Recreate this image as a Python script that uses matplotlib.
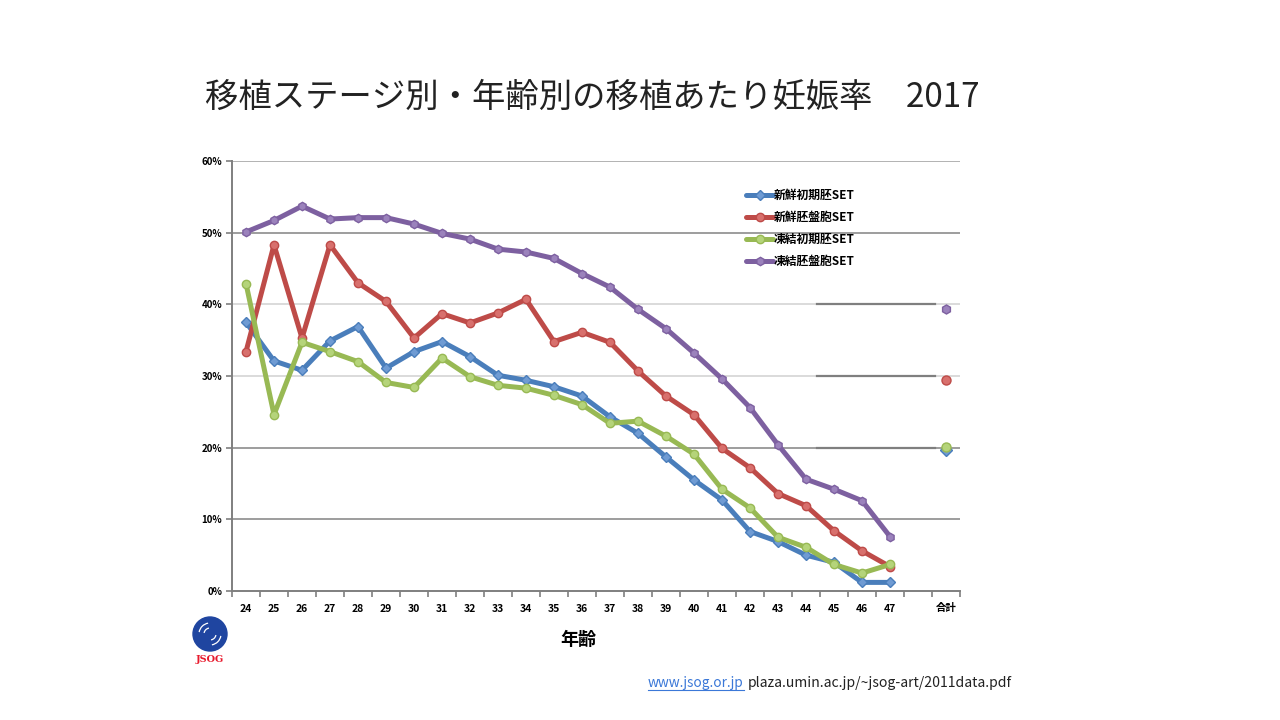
import matplotlib
matplotlib.use("Agg")
import matplotlib.pyplot as plt
from matplotlib.patches import Circle, Arc
from matplotlib.lines import Line2D

plt.rcParams['font.family'] = ['Noto Sans CJK JP', 'DejaVu Sans']

# ages 24..47, then a gap, then the total (合計)
ages = [str(a) for a in range(24, 48)]
total_label = "合計"

fresh_cleavage = [37.5, 32.1, 30.8, 34.9, 36.9, 31.1, 33.4, 34.8, 32.7, 30.1, 29.4, 28.5,
                  27.2, 24.3, 22.0, 18.7, 15.5, 12.7, 8.3, 6.9, 5.0, 4.0, 1.2, 1.2]
fresh_blast = [33.4, 48.3, 35.3, 48.3, 43.0, 40.4, 35.3, 38.7, 37.4, 38.8, 40.7, 34.8,
               36.1, 34.7, 30.7, 27.2, 24.6, 19.9, 17.2, 13.6, 11.9, 8.4, 5.6, 3.4]
frozen_cleavage = [42.9, 24.6, 34.7, 33.4, 32.0, 29.1, 28.4, 32.5, 29.9, 28.7, 28.3, 27.3,
                   26.0, 23.4, 23.7, 21.6, 19.1, 14.2, 11.6, 7.5, 6.1, 3.7, 2.5, 3.7]
frozen_blast = [50.1, 51.7, 53.7, 51.9, 52.1, 52.1, 51.2, 49.9, 49.1, 47.7, 47.3, 46.4,
                44.3, 42.4, 39.3, 36.6, 33.2, 29.6, 25.6, 20.4, 15.6, 14.2, 12.6, 7.6]
totals = [19.7, 29.5, 20.1, 39.3]

series_names = ["新鮮初期胚SET", "新鮮胚盤胞SET", "凍結初期胚SET", "凍結胚盤胞SET"]
series_data = [fresh_cleavage, fresh_blast, frozen_cleavage, frozen_blast]
line_colors = ["#4a7ebb", "#be4b48", "#98b954", "#7d60a0"]
face_colors = ["#6f9bd3", "#d8706d", "#b5d47a", "#9b82bc"]
markers = ["D", "o", "o", "h"]

fig = plt.figure(figsize=(12.8, 7.2), dpi=100)
ax = fig.add_axes([232/1280, 1 - 591/720, 728/1280, 430/720])

xs = list(range(len(ages)))
total_x = len(ages) + 1

for name, vals, lc, fc, mk in zip(series_names, series_data, line_colors, face_colors, markers):
    ms = 5.5 if mk == "D" else 6
    ax.plot(xs, vals, color=lc, lw=3.6, marker=mk, ms=ms, mfc=fc, mec=lc, mew=1,
            label=name, zorder=4, solid_capstyle='round')
for val, lc, fc, mk in zip(totals, line_colors, face_colors, markers):
    ax.plot([total_x], [val], color=lc, marker=mk, ms=6.5, mfc=fc, mec=lc, mew=1,
            ls='none', zorder=4)

# grid lines (the source mixes dark and light ones)
grid_colors = {10: "#8c8c8c", 20: "#8c8c8c", 30: "#d4d4d4", 40: "#d4d4d4",
               50: "#8c8c8c", 60: "#a6a6a6"}
for yv, c in grid_colors.items():
    ax.axhline(yv, color=c, lw=1.2, zorder=1)
for yv in [20, 30, 40]:
    ax.plot([20.4, 24.6], [yv, yv], color="#7f7f7f", lw=1.6, zorder=1.5)

ax.set_xlim(-0.5, 25.5)
ax.set_ylim(0, 60)
ax.set_yticks(range(0, 61, 10))
ax.set_yticklabels([f"{v}%" for v in range(0, 61, 10)], fontsize=7, fontweight='bold')
ax.set_xticks(xs + [total_x])
ax.set_xticklabels(ages + [total_label], fontsize=7.5, fontweight='bold')
ax.set_xticks([i - 0.5 for i in range(27)], minor=True)
ax.tick_params(axis='x', which='major', length=0, pad=9)
ax.tick_params(axis='x', which='minor', length=4, color="#7f7f7f", width=1.2)
ax.tick_params(axis='y', length=4, color="#7f7f7f", width=1.2, pad=3)

for s in ['top', 'right']:
    ax.spines[s].set_visible(False)
for s in ['left', 'bottom']:
    ax.spines[s].set_color("#7f7f7f")
    ax.spines[s].set_linewidth(1.4)

ax.set_xlabel("年齢", fontsize=13, fontweight='bold')
ax.xaxis.set_label_coords((578 - 232) / 728, -(630 - 591) / 430)

leg = ax.legend(loc='upper left', bbox_to_anchor=(0.70, 0.945), frameon=False,
                prop={'size': 8.5, 'weight': 'bold'}, handlelength=2.3, handletextpad=0.05,
                labelspacing=0.75, borderaxespad=0)
leg.set_zorder(3)

fig.text(205/1280, 1 - 97/720, "移植ステージ別・年齢別の移植あたり妊娠率　2017",
         fontsize=24, va='center', ha='left', color="#222222")

# JSOG logo
lax = fig.add_axes([188/1280, 1 - 668/720, 44/1280, 52/720])
lax.set_xlim(-1.1, 1.1)
lax.set_ylim(-1.55, 1.05)
lax.set_aspect('equal')
lax.axis('off')
lax.add_patch(Circle((0, 0.15), 0.85, color="#1f45a0"))
for r in [0.3, 0.55]:
    lax.add_patch(Arc((0, 0.15), 2*r, 2*r, theta1=100, theta2=170, color='white', lw=0.9))
    lax.add_patch(Arc((0, 0.15), 2*r, 2*r, theta1=280, theta2=350, color='white', lw=0.9))
lax.text(0, -1.12, "JSOG", color="#e8192c", fontsize=7, fontweight='bold',
         ha='center', va='center', family='DejaVu Serif')

# source note
fig.text(648/1280, 1 - 683/720, "www.jsog.or.jp", fontsize=9.8, color="#3b78d8",
         va='center', ha='left')
fig.add_artist(Line2D([648/1280, 744/1280], [1 - 690/720, 1 - 690/720],
                      color="#3b78d8", lw=0.8))
fig.text(748/1280, 1 - 683/720, "plaza.umin.ac.jp/~jsog-art/2011data.pdf", fontsize=10.1,
         color="#222222", va='center', ha='left')

fig.savefig("out.png", dpi=100)
